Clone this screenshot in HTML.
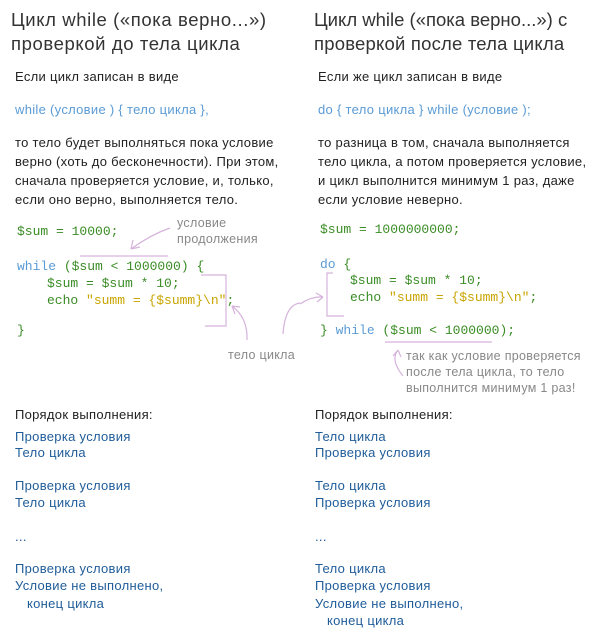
<!DOCTYPE html>
<html><head><meta charset="utf-8"><style>
body{margin:0;width:602px;height:640px;background:#fff;position:relative;overflow:hidden;font-family:"Liberation Sans","Noto Sans CJK SC",sans-serif;}
.t{position:absolute;white-space:nowrap;line-height:1;}
.h{font-size:18.5px;color:#333;letter-spacing:0.6px;}
.p{font-size:13px;color:#222;letter-spacing:0.3px;}
.c{font-family:"Liberation Mono","DejaVu Sans Mono",monospace;font-size:13px;color:#3a8c25;}
.k{color:#5b9bd5}.s{color:#c9a400}
.b{font-size:13px;color:#1f5c99;letter-spacing:0.3px;}
.n{font-size:12.5px;color:#888;letter-spacing:0.3px;}
</style></head><body>
<div class="t h" style="left:11px;top:11px">Цикл while («пока верно...»)</div>
<div class="t h" style="left:11px;top:35px">проверкой до тела цикла</div>
<div class="t h" style="left:314px;top:11px;letter-spacing:0">Цикл while («пока верно...») с</div>
<div class="t h" style="left:314px;top:35px;letter-spacing:0.2px">проверкой после тела цикла</div>

<div class="t p" style="left:15px;top:70px">Если цикл записан в виде</div>
<div class="t p" style="left:15px;top:103px;color:#5b9bd5">while (условие ) { тело цикла },</div>
<div class="t p" style="left:15px;top:136px">то тело будет выполняться пока условие</div>
<div class="t p" style="left:15px;top:155px">верно (хоть до бесконечности). При этом,</div>
<div class="t p" style="left:15px;top:174px">сначала проверяется условие, и, только,</div>
<div class="t p" style="left:15px;top:193px">если оно верно, выполняется тело.</div>

<div class="t p" style="left:318px;top:70px">Если же цикл записан в виде</div>
<div class="t p" style="left:318px;top:103px;color:#5b9bd5">do { тело цикла } while (условие );</div>
<div class="t p" style="left:318px;top:136px">то разница в том, сначала выполняется</div>
<div class="t p" style="left:318px;top:155px">тело цикла, а потом проверяется условие,</div>
<div class="t p" style="left:318px;top:174px">и цикл выполнится минимум 1 раз, даже</div>
<div class="t p" style="left:318px;top:193px">если условие неверно.</div>

<div class="t c" style="left:17px;top:225px">$sum = 10000;</div>
<div class="t c" style="left:17px;top:260px"><span class="k">while</span> ($sum &lt; 1000000) {</div>
<div class="t c" style="left:47px;top:277px">$sum = $sum * 10;</div>
<div class="t c" style="left:47px;top:294px">echo <span class="s">"summ = {$summ}\n"</span>;</div>
<div class="t c" style="left:17px;top:324px">}</div>
<div class="t n" style="left:177px;top:217px">условие</div>
<div class="t n" style="left:177px;top:233px">продолжения</div>
<div class="t n" style="left:228px;top:349px">тело цикла</div>

<div class="t c" style="left:320px;top:223px">$sum = 1000000000;</div>
<div class="t c" style="left:320px;top:258px"><span class="k">do</span> {</div>
<div class="t c" style="left:350px;top:274px">$sum = $sum * 10;</div>
<div class="t c" style="left:350px;top:291px">echo <span class="s">"summ = {$summ}\n"</span>;</div>
<div class="t c" style="left:320px;top:324px">} <span class="k">while</span> ($sum &lt; 1000000);</div>
<div class="t n" style="left:406px;top:350px">так как условие проверяется</div>
<div class="t n" style="left:406px;top:366px">после тела цикла, то тело</div>
<div class="t n" style="left:406px;top:382px">выполнится минимум 1 раз!</div>

<svg style="position:absolute;left:0;top:0" width="602" height="640" fill="none" stroke="#d6b3dc" stroke-width="1.2">
<path d="M80 256 H168"/>
<path d="M170 228 Q150 235 131 249 M131 249 l2-9 M131 249 l9-2"/>
<path d="M201 275 H226 V326 H205"/>
<path d="M247 340 Q248 318 232 306 M232 306 l3 8 M232 306 l8 1"/>
<path d="M283 334 Q285 305 300 303"/>
<path d="M333 273 H327 V316 H344"/>
<path d="M300 304 Q312 296 323 297 M323 297 l-7-4 M323 297 l-6 5"/>
<path d="M385 342 H492"/>
<path d="M403 376 Q390 360 398 350 M398 350 l-5 6 M398 350 l3 7"/>
</svg>

<div class="t p" style="left:15px;top:408px">Порядок выполнения:</div>
<div class="t b" style="left:15px;top:430px">Проверка условия</div>
<div class="t b" style="left:15px;top:446px">Тело цикла</div>
<div class="t b" style="left:15px;top:479px">Проверка условия</div>
<div class="t b" style="left:15px;top:496px">Тело цикла</div>
<div class="t b" style="left:15px;top:530px">...</div>
<div class="t b" style="left:15px;top:562px">Проверка условия</div>
<div class="t b" style="left:15px;top:579px">Условие не выполнено,</div>
<div class="t b" style="left:27px;top:597px">конец цикла</div>

<div class="t p" style="left:315px;top:408px">Порядок выполнения:</div>
<div class="t b" style="left:315px;top:430px">Тело цикла</div>
<div class="t b" style="left:315px;top:446px">Проверка условия</div>
<div class="t b" style="left:315px;top:479px">Тело цикла</div>
<div class="t b" style="left:315px;top:496px">Проверка условия</div>
<div class="t b" style="left:315px;top:530px">...</div>
<div class="t b" style="left:315px;top:562px">Тело цикла</div>
<div class="t b" style="left:315px;top:579px">Проверка условия</div>
<div class="t b" style="left:315px;top:597px">Условие не выполнено,</div>
<div class="t b" style="left:327px;top:614px">конец цикла</div>
</body></html>
